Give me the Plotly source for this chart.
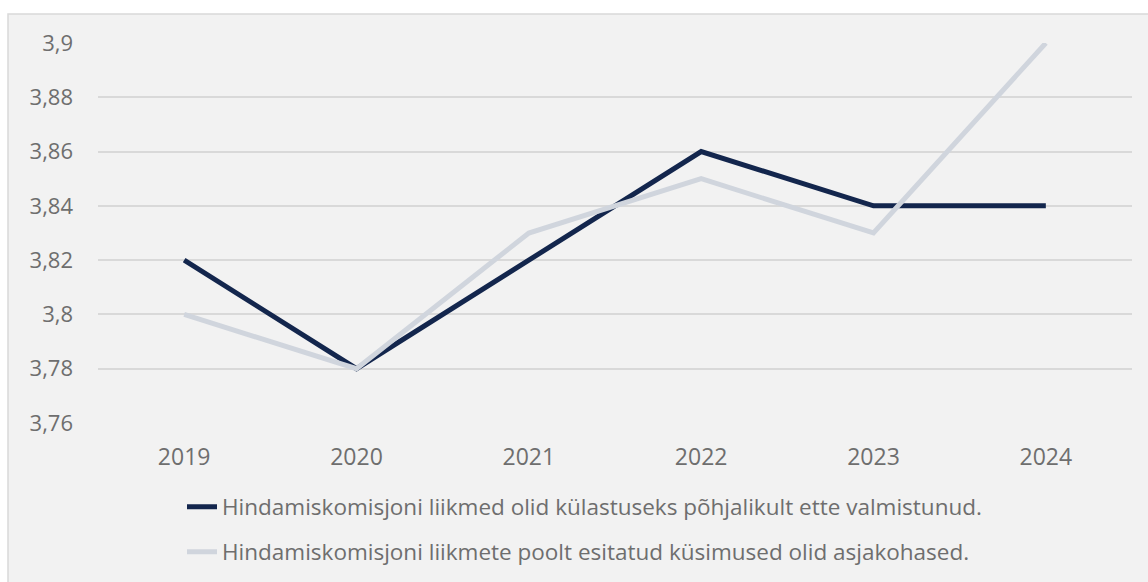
import plotly.graph_objects as go

anos = ["2019", "2020", "2021", "2022", "2023", "2024"]
valmistunud = [3.82, 3.78, 3.82, 3.86, 3.84, 3.84]
asjakohased = [3.80, 3.78, 3.83, 3.85, 3.83, 3.90]

nimi_1 = "Hindamiskomisjoni liikmed olid külastuseks põhjalikult ette valmistunud."
nimi_2 = "Hindamiskomisjoni liikmete poolt esitatud küsimused olid asjakohased."

W, H = 1148, 582
ML, MR, MT, MB = 98, 16, 43, 159
PW, PH = W - ML - MR, H - MT - MB


def px_x(x):
    return (x - ML) / PW


def px_y(y):
    return (H - MB - y) / PH


fig = go.Figure()

fig.add_trace(go.Scatter(
    x=anos, y=valmistunud, name=nimi_1, mode="lines",
    line=dict(color="#13264d", width=5),
    legend="legend",
))
fig.add_trace(go.Scatter(
    x=anos, y=asjakohased, name=nimi_2, mode="lines",
    line=dict(color="#d0d5dd", width=5),
    legend="legend2",
))

# taust koos piirjoonega
fig.add_shape(
    type="rect", xref="paper", yref="paper", layer="below",
    x0=px_x(8), x1=px_x(W + 5), y0=px_y(H + 5), y1=px_y(14),
    fillcolor="#f2f2f2", line=dict(color="#d9d9d9", width=1.5),
)

legend_style = dict(
    orientation="v", xanchor="left", yanchor="middle",
    bgcolor="rgba(0,0,0,0)", font=dict(size=22.5, color="#6e6e6e"),
    itemwidth=30,
)

fig.update_layout(
    width=W, height=H,
    margin=dict(l=ML, r=MR, t=MT, b=MB, autoexpand=False),
    showlegend=True,
    paper_bgcolor="white",
    plot_bgcolor="rgba(0,0,0,0)",
    separators=", ",
    font=dict(family="Open Sans, Lato, sans-serif", size=22, color="#6e6e6e"),
    legend=dict(x=px_x(182), y=px_y(507), **legend_style),
    legend2=dict(x=px_x(182), y=px_y(552), **legend_style),
    xaxis=dict(
        type="category", range=[-0.5, 5.5],
        showgrid=False, showline=False, zeroline=False,
        ticks="", ticklabelstandoff=18,
        tickfont=dict(size=23, color="#6e6e6e"),
    ),
    yaxis=dict(
        range=[3.76, 3.9], dtick=0.02, tick0=3.76, tickformat=".2~f",
        showgrid=True, gridcolor="#d9d9d9", gridwidth=1.5,
        zeroline=False, showline=False, ticks="", ticklabelstandoff=24,
        tickfont=dict(size=22, color="#6e6e6e"),
    ),
)

fig.write_html(
    "out.html",
    config={"displayModeBar": False},
    post_script="document.body.style.margin='0';",
)
